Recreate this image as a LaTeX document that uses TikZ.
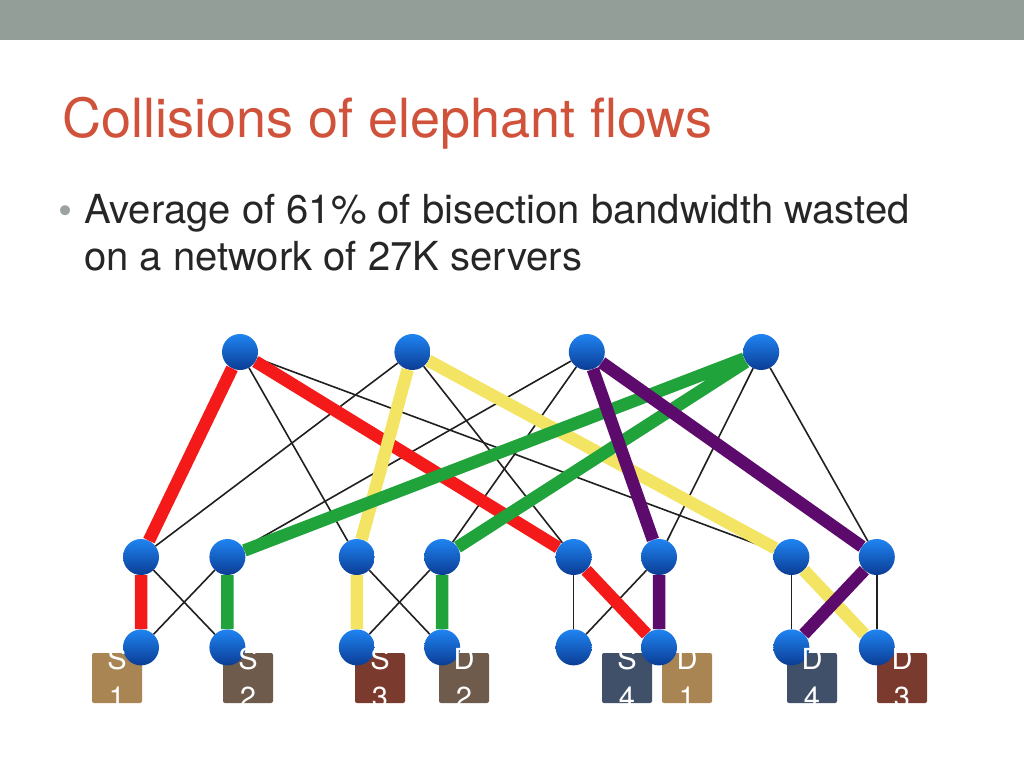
\documentclass[tikz,border=0pt]{standalone}
\usepackage{fontspec}
\setmainfont{TeX Gyre Heros}
\usepackage{tikz}
\usetikzlibrary{positioning}

\definecolor{barcol}{HTML}{939E98}
\definecolor{titlecol}{HTML}{D0523A}
\definecolor{textcol}{HTML}{262626}
\definecolor{bulletcol}{HTML}{9AA39E}
\definecolor{linkgray}{HTML}{202020}
\definecolor{flowred}{HTML}{F51A1A}
\definecolor{flowyellow}{HTML}{F3E563}
\definecolor{flowgreen}{HTML}{1FA33A}
\definecolor{flowpurple}{HTML}{5C0A6B}
\definecolor{nodetop}{HTML}{1F84F2}
\definecolor{nodebottom}{HTML}{0B3C94}
\definecolor{boxtan}{HTML}{A88553}
\definecolor{boxbrown}{HTML}{6E5B4B}
\definecolor{boxred}{HTML}{7A3A2D}
\definecolor{boxslate}{HTML}{405069}

\begin{document}
\begin{tikzpicture}[x=1pt, y=-1pt,
    switch/.style={circle, minimum size=36pt, inner sep=0pt, top color=nodetop, bottom color=nodebottom},
    link/.style={draw=linkgray, line width=1.6pt},
    flow/.style={line width=12.5pt},
    server/.style={minimum size=50pt, inner sep=0pt, rounded corners=2pt},
    servertext/.style={text=white, font=\fontsize{29}{38}\selectfont, align=center, inner sep=0pt}]
    \useasboundingbox[fill=white] (0,0) rectangle (1024,768);
    \fill[barcol] (0,0) rectangle (1024,40);

    \node(title) [anchor=base west, inner sep=0pt, text=titlecol, font=\fontsize{54}{54}\selectfont] at (62,137) {Collisions of elephant flows};
    \node(dot) [anchor=base west, inner sep=0pt, text=bulletcol, font=\fontsize{40}{40}\selectfont] at (58,224) {•};
    \node(line1) [anchor=base west, inner sep=0pt, text=textcol, font=\fontsize{40}{47}\selectfont] at (84,223) {Average of 61\% of bisection bandwidth wasted};
    \node(line2) [anchor=base west, inner sep=0pt, text=textcol, font=\fontsize{40}{47}\selectfont] at (84,270) {on a network of 27K servers};

    % servers
    \node(s1box) [server, fill=boxtan] at (117,678) {};
    \node(s2box) [server, fill=boxbrown] at (248,678) {};
    \node(s3box) [server, fill=boxred] at (380,678) {};
    \node(d2box) [server, fill=boxbrown] at (464,678) {};
    \node(s4box) [server, fill=boxslate] at (627,678) {};
    \node(d1box) [server, fill=boxtan] at (687,678) {};
    \node(d4box) [server, fill=boxslate] at (812,678) {};
    \node(d3box) [server, fill=boxred] at (902,678) {};

    % core
    \node(c1) [switch] at (240,352) {};
    \node(c2) [switch, right=136pt of c1] {};
    \node(c3) [switch, right=138pt of c2] {};
    \node(c4) [switch, right=138pt of c3] {};

    % aggregation
    \node(a1) [switch] at (141,557) {};
    \node(a2) [switch, right=50pt of a1] {};
    \node(a3) [switch, right=93pt of a2] {};
    \node(a4) [switch, right=49pt of a3] {};
    \node(a5) [switch, right=95pt of a4] {};
    \node(a6) [switch, right=49pt of a5] {};
    \node(a7) [switch, right=96pt of a6] {};
    \node(a8) [switch, right=49pt of a7] {};

    % edge
    \foreach \i in {1,...,8}
        \node(e\i) [switch, below=54pt of a\i] {};

    \draw[link] (c1) -- (a3);
    \draw[link] (c1) -- (a7);
    \draw[link] (c2) -- (a1);
    \draw[link] (c2) -- (a5);
    \draw[link] (c3) -- (a2);
    \draw[link] (c3) -- (a4);
    \draw[link] (c4) -- (a6);
    \draw[link] (c4) -- (a8);
    \draw[link] (a1) -- (e2);
    \draw[link] (a2) -- (e1);
    \draw[link] (a3) -- (e4);
    \draw[link] (a4) -- (e3);
    \draw[link] (a5) -- (e5);
    \draw[link] (a6) -- (e5);
    \draw[link] (a7) -- (e7);
    \draw[link] (a8) -- (e8);

    \draw[flow, flowred] (e1) -- (a1) -- (c1) -- (a5) -- (e6);
    \draw[flow, flowyellow] (e3) -- (a3) -- (c2) -- (a7) -- (e8);
    \draw[flow, flowgreen] (e2) -- (a2) -- (c4) -- (a4) -- (e4);
    \draw[flow, flowpurple] (e6) -- (a6) -- (c3) -- (a8) -- (e7);

    \node(s1) [servertext] at (s1box) {S\\1};
    \node(s2) [servertext] at (s2box) {S\\2};
    \node(s3) [servertext] at (s3box) {S\\3};
    \node(d2) [servertext] at (d2box) {D\\2};
    \node(s4) [servertext] at (s4box) {S\\4};
    \node(d1) [servertext] at (d1box) {D\\1};
    \node(d4) [servertext] at (d4box) {D\\4};
    \node(d3) [servertext] at (d3box) {D\\3};
\end{tikzpicture}
\end{document}
